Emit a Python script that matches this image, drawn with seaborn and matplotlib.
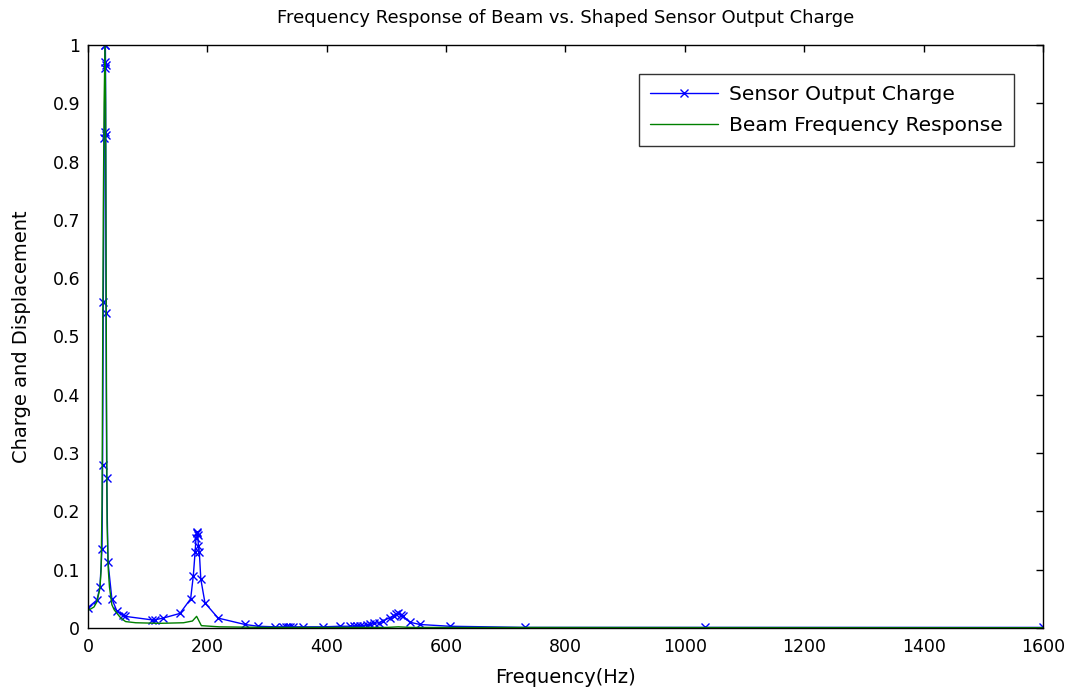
import matplotlib
matplotlib.use("Agg")
import matplotlib.pyplot as plt
import seaborn as sns
import pandas as pd

# Sensor output charge (blue, x markers)
sensor_freq = [0, 15, 20, 23.5, 24.5, 25.6, 27.3, 27.8, 28.2, 28.5, 28.8, 29.1, 29.4, 29.7,
               30.2, 31.3, 33.5, 40, 48, 58, 62, 106.7, 112, 126, 154, 172, 176.5, 179.5,
               181, 182, 183, 184, 185, 186.5, 189, 196, 218, 263, 285, 313, 327, 331, 335,
               339, 343, 360, 394, 422, 439, 445, 450, 455, 460, 467, 472, 480, 487, 494,
               506, 512, 516, 520, 524, 528, 539, 556, 606, 732, 1033, 1600]
sensor_val = [0.035, 0.048, 0.07, 0.135, 0.28, 0.56, 0.84, 0.85, 0.96, 0.97, 1.0, 1.0, 0.965,
              0.845, 0.54, 0.258, 0.113, 0.05, 0.03, 0.022, 0.02, 0.014, 0.014, 0.017, 0.025,
              0.05, 0.09, 0.131, 0.155, 0.163, 0.165, 0.16, 0.14, 0.131, 0.084, 0.043, 0.017,
              0.006, 0.003, 0.002, 0.002, 0.002, 0.002, 0.002, 0.002, 0.002, 0.002, 0.003,
              0.003, 0.003, 0.003, 0.003, 0.004, 0.005, 0.006, 0.008, 0.009, 0.012, 0.018,
              0.021, 0.024, 0.025, 0.022, 0.02, 0.01, 0.006, 0.003, 0.001, 0.001, 0.001]

# Beam frequency response (green)
beam_freq = [0, 10, 15, 20, 22, 23.5, 25.6, 27, 28.5, 29.5, 31, 32, 34, 36, 40, 44, 55, 63,
             80, 120, 160, 175, 182, 186, 190, 220, 300, 500, 520, 540, 1600]
beam_val = [0.03, 0.036, 0.045, 0.068, 0.1, 0.21, 0.71, 0.9, 1.0, 0.9, 0.4, 0.18, 0.1, 0.07,
            0.04, 0.031, 0.017, 0.011, 0.009, 0.008, 0.009, 0.012, 0.02, 0.012, 0.004, 0.002,
            0.001, 0.001, 0.002, 0.001, 0.0005]

xticks = [0, 200, 400, 600, 800, 1000, 1200, 1400, 1600]
yticks = [0, 0.1, 0.2, 0.3, 0.4, 0.5, 0.6, 0.7, 0.8, 0.9, 1]
ytick_labels = ["0", "0.1", "0.2", "0.3", "0.4", "0.5", "0.6", "0.7", "0.8", "0.9", "1"]

sns.set_style("white")
plt.rcParams["font.family"] = ["DejaVu Sans"]
plt.rcParams["text.color"] = "black"
plt.rcParams["axes.labelcolor"] = "black"

fig = plt.figure(figsize=(10.77, 6.93), dpi=100)
ax = fig.add_axes([0.0817, 0.0938, 0.8867, 0.8413])

df_s = pd.DataFrame({"f": sensor_freq, "v": sensor_val})
df_b = pd.DataFrame({"f": beam_freq, "v": beam_val})

sns.lineplot(data=df_s, x="f", y="v", ax=ax, sort=False, estimator=None, color=(0, 0, 1),
             lw=1.0, marker="x", markersize=5.5, markeredgewidth=1.0, markeredgecolor=(0, 0, 1),
             label="Sensor Output Charge")
sns.lineplot(data=df_b, x="f", y="v", ax=ax, sort=False, estimator=None, color=(0, 0.5, 0),
             lw=1.0, label="Beam Frequency Response")

ax.set_xlim(0, 1600)
ax.set_ylim(0, 1)
ax.set_xticks(xticks)
ax.set_yticks(yticks)
ax.set_yticklabels(ytick_labels)
ax.tick_params(direction="in", length=5, width=1, top=True, right=True, labelsize=12.5,
               colors="black")
ax.tick_params(axis="x", pad=7)
ax.tick_params(axis="y", pad=5.5)
for s in ax.spines.values():
    s.set_visible(True)
    s.set_color("black")
    s.set_linewidth(1)

ax.set_xlabel("Frequency(Hz)", fontsize=14, labelpad=9, color="black")
ax.set_ylabel("Charge and Displacement", fontsize=14, labelpad=16, color="black")
ax.set_title("Frequency Response of Beam vs. Shaped Sensor Output Charge", fontsize=13,
             pad=16, color="black")

leg = ax.legend(loc="upper right", bbox_to_anchor=(0.9696, 0.951), fontsize=14.6, frameon=True,
                fancybox=False, edgecolor="black", borderpad=0.55, handlelength=3.35,
                handletextpad=0.55, labelspacing=0.62, borderaxespad=0)
leg.get_frame().set_linewidth(1)
for t in leg.get_texts():
    t.set_color("black")

fig.savefig("out.png", dpi=100, facecolor="white")
